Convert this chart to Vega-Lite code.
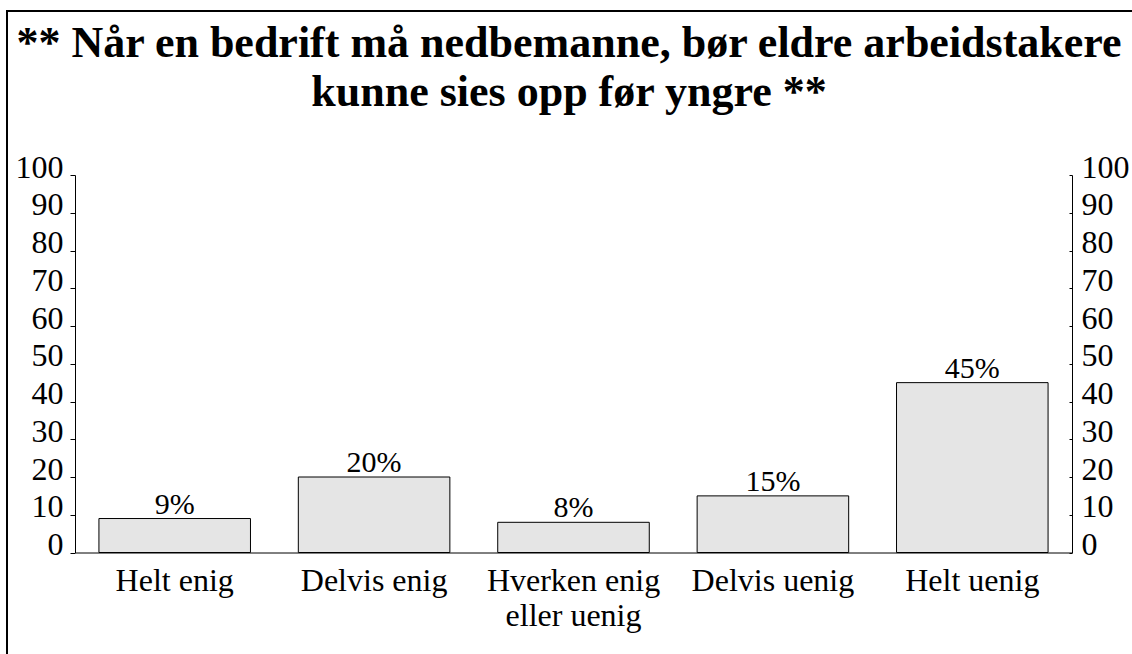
{
  "$schema": "https://vega.github.io/schema/vega-lite/v6.json",
  "width": 1140,
  "height": 660,
  "autosize": {"type": "none"},
  "padding": {"left": 7, "top": 11, "right": -15, "bottom": -17},
  "background": "#ffffff",
  "config": {
    "view": {"stroke": "#000000", "strokeWidth": 2},
    "font": "Liberation Serif"
  },
  "title": {
    "text": ["** Når en bedrift må nedbemanne, bør eldre arbeidstakere", "kunne sies opp før yngre **"],
    "font": "Liberation Serif",
    "fontSize": 44,
    "fontWeight": "bold",
    "color": "#000000",
    "lineHeight": 49,
    "anchor": "middle",
    "baseline": "top",
    "offset": -104,
    "dx": -8
  },
  "data": {
    "values": [
      {"kategori": "Helt enig", "andel": 9, "etikett": "9%"},
      {"kategori": "Delvis enig", "andel": 20, "etikett": "20%"},
      {"kategori": "Hverken enig eller uenig", "andel": 8, "etikett": "8%"},
      {"kategori": "Delvis uenig", "andel": 15, "etikett": "15%"},
      {"kategori": "Helt uenig", "andel": 45, "etikett": "45%"}
    ]
  },
  "encoding": {
    "x": {
      "field": "kategori",
      "type": "nominal",
      "sort": null,
      "scale": {"range": [68, 1065], "paddingInner": 0.24, "paddingOuter": 0.12},
      "axis": {
        "orient": "bottom",
        "offset": -118.5,
        "title": null,
        "ticks": false,
        "domain": true,
        "domainColor": "#000000",
        "domainWidth": 1,
        "labelAngle": 0,
        "labelFont": "Liberation Serif",
        "labelFontSize": 32,
        "labelColor": "#000000",
        "labelPadding": 13,
        "labelBaseline": "top",
        "labelLineHeight": 35,
        "labelLimit": 400,
        "labelExpr": "datum.label == 'Hverken enig eller uenig' ? ['Hverken enig', 'eller uenig'] : datum.label"
      }
    }
  },
  "layer": [
    {
      "mark": {"type": "bar", "fill": "#e5e5e5", "stroke": "#000000", "strokeWidth": 1},
      "encoding": {
        "y": {
          "field": "andel",
          "type": "quantitative",
          "scale": {"domain": [0, 100], "range": [541.5, 164], "nice": false},
          "axis": {
            "orient": "left",
            "offset": -68,
            "title": null,
            "grid": false,
            "values": [0, 10, 20, 30, 40, 50, 60, 70, 80, 90, 100],
            "tickSize": 5,
            "tickColor": "#000000",
            "domainColor": "#000000",
            "labelFont": "Liberation Serif",
            "labelFontSize": 32,
            "labelColor": "#000000",
            "labelPadding": 7,
            "labelAlign": "right",
            "labelBaseline": "alphabetic",
            "labelOffset": 2
          }
        }
      }
    },
    {
      "mark": {"type": "text", "font": "Liberation Serif", "fontSize": 30, "color": "#000000", "baseline": "alphabetic", "dy": -5},
      "encoding": {
        "y": {
          "field": "andel",
          "type": "quantitative",
          "axis": {
            "orient": "right",
            "offset": -75,
            "title": null,
            "grid": false,
            "values": [0, 10, 20, 30, 40, 50, 60, 70, 80, 90, 100],
            "tickSize": -3,
            "tickColor": "#000000",
            "domainColor": "#000000",
            "labelFont": "Liberation Serif",
            "labelFontSize": 32,
            "labelColor": "#000000",
            "labelPadding": 12,
            "labelAlign": "left",
            "labelBaseline": "alphabetic",
            "labelOffset": 2
          }
        },
        "text": {"field": "etikett", "type": "nominal"}
      }
    }
  ],
  "resolve": {"axis": {"y": "independent"}}
}
